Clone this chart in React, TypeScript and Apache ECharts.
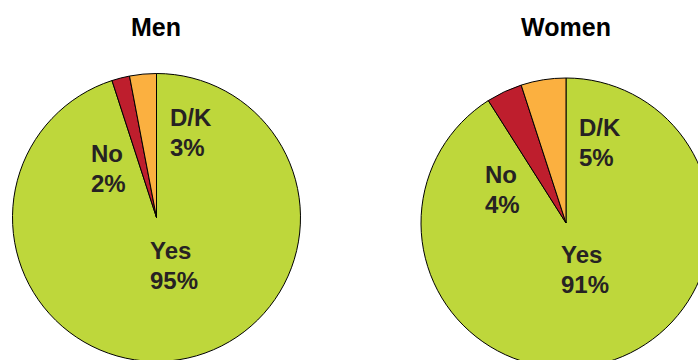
import React, { useEffect, useRef } from "react";
import * as echarts from "echarts";

const categories = ["Yes", "No", "D/K"];
const menValues = [95, 2, 3];
const womenValues = [91, 4, 5];
const titles = ["Men", "Women"];
const sliceColors = ["#BED73B", "#BE1E2D", "#FBB040"];

// label anchor positions (left, vertical middle) per pie
const menLabelPos = [[150, 265], [91, 168], [170, 132]];
const womenLabelPos = [[561, 269], [485, 189], [579, 142]];

export default function App() {
  const ref = useRef<HTMLDivElement>(null);
  useEffect(() => {
    if (!ref.current) return;
    const chart = echarts.init(ref.current, undefined, { renderer: "svg" });
    const makeSeries = (values: number[], center: number[], radius: number, pos: number[][]) => ({
      type: "pie",
      center,
      radius,
      startAngle: 90,
      clockwise: true,
      avoidLabelOverlap: false,
      silent: true,
      data: categories.map((c, i) => ({
        name: c,
        value: values[i],
        itemStyle: { color: sliceColors[i] },
      })),
      itemStyle: { borderColor: "#000", borderWidth: 1 },
      label: {
        show: true,
        position: "inside",
        formatter: "{b}\n{c}%",
        fontFamily: "Liberation Sans, Arial, sans-serif",
        fontWeight: "bold",
        fontSize: 24,
        lineHeight: 30,
        color: "#262223",
        align: "left",
      },
      labelLine: { show: false },
      labelLayout: (p: any) => ({
        x: pos[p.dataIndex][0],
        y: pos[p.dataIndex][1],
        align: "left",
        verticalAlign: "middle",
      }),
    });
    chart.setOption({
      animation: false,
      backgroundColor: "#fff",
      title: [
        { text: titles[0], left: 156, top: 14 },
        { text: titles[1], left: 566, top: 14 },
      ].map((t) => ({
        ...t,
        textAlign: "center",
        padding: 0,
        textStyle: {
          fontFamily: "Liberation Sans, Arial, sans-serif",
          fontWeight: "bold",
          fontSize: 25,
          color: "#000",
        },
      })),
      series: [
        makeSeries(menValues, [156.5, 217.5], 144, menLabelPos),
        makeSeries(womenValues, [566, 223], 145, womenLabelPos),
      ],
    });
    return () => chart.dispose();
  }, []);
  return (
    <div
      ref={ref}
      style={{ position: "fixed", left: 0, top: 0, width: 698, height: 360 }}
    />
  );
}
